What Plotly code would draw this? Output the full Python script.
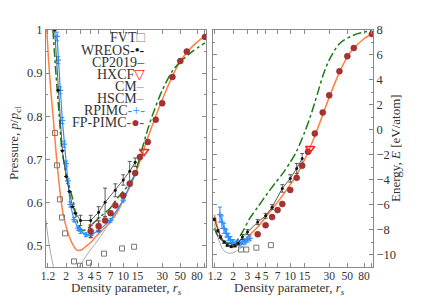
import plotly.graph_objects as go

# ---------------- data: pressure panel ----------------
fvt_rs_p = [1.46, 1.55, 1.68, 1.78, 1.94, 2.5, 2.96, 3.81, 5.82, 9.67, 13.6]
fvt_p = [0.761, 0.686, 0.607, 0.565, 0.528, 0.463, 0.453, 0.460, 0.481, 0.493, 0.497]

wreos_rs_p = [1.45, 1.6, 1.8, 2.0, 2.2, 2.4, 2.6, 3.0, 4.0, 5.0, 6.0, 8.0, 10.0, 12.0, 14.0]
wreos_p = [1.0, 0.86, 0.72, 0.66, 0.625, 0.59, 0.575, 0.558, 0.558, 0.577, 0.600, 0.628, 0.652, 0.672, 0.693]
wreos_p_err = [0, 0, 0, 0, 0, 0, 0, 0.012, 0.012, 0.013, 0.033, 0.015, 0.012, 0.023, 0.01]

cp_rs_p = [1.38, 1.5, 1.65, 1.78, 2.1, 2.43, 2.8, 3.2, 3.7, 4.5, 5.5, 6.9, 8.5, 10, 13.2, 16.5, 20, 24, 30, 40, 50, 70, 100]
cp_p = [1.0, 0.90, 0.80, 0.72, 0.65, 0.605, 0.55, 0.535, 0.54, 0.555, 0.57, 0.586, 0.61, 0.625, 0.656, 0.715, 0.77, 0.814, 0.86, 0.905, 0.926, 0.95, 0.97]

hxcf_rs_p = [18.0]
hxcf_p = [0.718]

cm_rs_p = [1.13, 1.2, 1.3, 1.4, 1.5, 2.5, 3.0, 3.5, 4.0, 5.0, 6.0, 8.0, 10.0]
cm_p = [0.56, 0.52, 0.48, 0.45, 0.42, 0.43, 0.455, 0.475, 0.49, 0.515, 0.537, 0.578, 0.605]

hscm_rs_p = [1.16, 1.22, 1.3, 1.4, 1.5, 1.65, 1.83, 2.1, 2.4, 2.72, 3.1, 3.45, 4.0, 4.6, 5.5, 6.9, 8.5, 10, 12, 14, 17, 20, 25, 30, 40, 50, 60, 80, 100]
hscm_p = [1.0, 0.93, 0.86, 0.79, 0.72, 0.64, 0.575, 0.53, 0.503, 0.489, 0.49, 0.497, 0.507, 0.52, 0.535, 0.553, 0.578, 0.605, 0.635, 0.665, 0.71, 0.75, 0.80, 0.838, 0.893, 0.928, 0.948, 0.972, 0.986]

rpimc_rs_p = [1.55, 1.6, 1.7, 1.8, 1.9, 2.0, 2.1, 2.25, 2.5, 2.8, 3.0, 3.5, 4.0, 5.0, 7.0, 10.0, 14.0]
rpimc_p = [0.985, 0.93, 0.86, 0.79, 0.735, 0.69, 0.65, 0.595, 0.56, 0.54, 0.533, 0.525, 0.523, 0.535, 0.558, 0.605, 0.667]
rpimc_p_err = [0.01, 0.008, 0.008, 0.007, 0.007, 0.006, 0.006, 0.006, 0.005, 0.005, 0.005, 0.004, 0.004, 0.004, 0.004, 0.004, 0.004]

fp_rs_p = [4, 5, 6, 7, 8, 10, 12, 14, 16, 20, 25, 30, 40, 50, 60, 100]
fp_p = [0.533, 0.545, 0.558, 0.575, 0.593, 0.616, 0.643, 0.668, 0.705, 0.740, 0.792, 0.830, 0.891, 0.928, 0.950, 0.984]
fp_p_err = [0.015, 0.012, 0.004, 0.004, 0.003, 0.003, 0.003, 0.003, 0.003, 0.003, 0.003, 0.003, 0.003, 0.003, 0.003, 0.003]

# ---------------- data: energy panel ----------------
fvt_rs_e = [2.5, 2.9, 3.85, 5.8]
fvt_e = [-9.6, -9.6, -9.45, -9.25]

wreos_rs_e = [1.18, 1.3, 1.4, 1.55, 1.7, 1.9, 2.1, 2.3, 2.6, 3.0, 4.0, 5.0, 6.0, 8.0, 10.0, 12.0, 14.0]
wreos_e = [-7.2, -8.1, -8.6, -9.0, -9.25, -9.35, -9.3, -9.1, -8.6, -8.2, -7.4, -6.9, -6.2, -4.7, -3.9, -3.1, -2.3]
wreos_e_err = [0.1, 0.1, 0.1, 0.1, 0.1, 0.1, 0.1, 0.1, 0.2, 0.2, 0.2, 0.2, 0.2, 0.3, 0.3, 0.4, 0.4]

cp_rs_e = [1.18, 1.3, 1.5, 1.8, 2.2, 2.6, 3.2, 4.0, 5.2, 6.5, 8.2, 10, 12, 15, 17.5, 20, 22.5, 25, 30, 40, 60, 100]
cp_e = [-7.9, -8.5, -8.9, -9.1, -8.9, -8.2, -7.1, -6.2, -5.15, -4.3, -3.45, -2.6, -1.7, -0.2, 1.0, 2.2, 3.3, 4.3, 5.6, 6.9, 7.6, 7.95]

hxcf_rs_e = [17.5]
hxcf_e = [-1.5]

cm_rs_e = [1.18, 1.3, 1.45, 1.55, 1.7, 1.85, 2.1, 2.4, 2.7, 3.0]
cm_e = [-7.5, -8.6, -9.4, -9.7, -9.85, -9.9, -9.8, -9.55, -9.3, -9.0]

hscm_rs_e = [1.18, 1.3, 1.45, 1.65, 1.9, 2.2, 2.6, 3.0, 4.0, 5.0, 6.0, 7.0, 8.0, 10, 12, 14, 16, 20, 25, 30, 40, 50, 60, 80, 100]
hscm_e = [-6.8, -7.9, -8.7, -9.15, -9.35, -9.3, -9.0, -8.6, -7.8, -7.0, -6.35, -5.8, -5.3, -4.4, -3.6, -2.8, -2.0, -0.5, 1.2, 2.6, 4.6, 5.85, 6.55, 7.3, 7.7]

rpimc_rs_e = [1.38, 1.46, 1.55, 1.65, 1.75, 1.86, 2.0, 2.2, 2.4, 2.6, 2.8, 3.0, 3.2]
rpimc_e = [-6.8, -7.4, -7.9, -8.3, -8.6, -8.8, -9.0, -9.1, -9.1, -9.0, -8.95, -8.8, -8.7]
rpimc_e_err = [0.6, 0.5, 0.4, 0.3, 0.3, 0.25, 0.2, 0.2, 0.2, 0.2, 0.2, 0.2, 0.2]

fp_rs_e = [4, 5, 6, 7, 8, 10, 12, 14, 16.5, 20, 25, 30, 40, 50, 60, 100]
fp_e = [-8.37, -7.65, -7.0, -6.44, -5.95, -4.82, -3.85, -2.89, -1.76, -0.3, 1.39, 2.76, 4.69, 5.9, 6.55, 7.68]

# ---------------- tick labels ----------------
x_tickvals = [1.2, 2, 3, 4, 5, 7, 10, 15, 30, 50, 80, 100]
x_ticktext = ["1.2", "2", "3", "4", "5", "7", "10", "15", "30", "50", "80", ""]

# ---------------- styles ----------------
FONT = "Liberation Serif"
C_FVT = "#777777"
C_WREOS = "#111111"
C_CP = "#1b7a1b"
C_HXCF = "#ff2020"
C_CM = "#aaaaaa"
C_HSCM = "#ff8040"
C_RPIMC = "#2a8fff"
C_FP = "#a83232"
AX = "#8a8a8a"
TXT = "#333333"

fig = go.Figure()


def add_panel(xa, ya, d):
    (fvt_x, fvt_y, wr_x, wr_y, wr_err, cp_x, cp_y, hx_x, hx_y, cm_x, cm_y,
     hs_x, hs_y, rp_x, rp_y, rp_err, fp_x, fp_y, fp_err) = d
    fig.add_trace(go.Scatter(x=cm_x, y=cm_y, mode="lines", line=dict(color=C_CM, width=1, shape="spline"),
                             xaxis=xa, yaxis=ya, showlegend=False))
    fig.add_trace(go.Scatter(x=hs_x, y=hs_y, mode="lines", line=dict(color=C_HSCM, width=1.5, shape="spline", smoothing=0.8),
                             xaxis=xa, yaxis=ya, showlegend=False))
    fig.add_trace(go.Scatter(x=cp_x, y=cp_y, mode="lines", line=dict(color=C_CP, width=1.5, dash="dashdot", shape="spline", smoothing=0.8),
                             xaxis=xa, yaxis=ya, showlegend=False))
    fig.add_trace(go.Scatter(x=rp_x, y=rp_y, mode="lines+markers", line=dict(color=C_RPIMC, width=1.2),
                             marker=dict(symbol="cross-thin", size=4, line=dict(color=C_RPIMC, width=1.2)),
                             error_y=dict(type="data", array=rp_err, color=C_RPIMC, thickness=1, width=2),
                             xaxis=xa, yaxis=ya, showlegend=False))
    fig.add_trace(go.Scatter(x=wr_x, y=wr_y, mode="lines+markers", line=dict(color="#333333", width=0.8),
                             marker=dict(symbol="circle", size=3, color=C_WREOS),
                             error_y=dict(type="data", array=wr_err, color="#333333", thickness=0.8, width=2),
                             xaxis=xa, yaxis=ya, showlegend=False))
    fig.add_trace(go.Scatter(x=fvt_x, y=fvt_y, mode="markers",
                             marker=dict(symbol="square-open", size=5, color=C_FVT, line=dict(width=1)),
                             xaxis=xa, yaxis=ya, showlegend=False))
    fig.add_trace(go.Scatter(x=fp_x, y=fp_y, mode="markers",
                             marker=dict(symbol="circle", size=6, color=C_FP, line=dict(color="#8a2020", width=0.5)),
                             error_y=dict(type="data", array=fp_err, color=C_FP, thickness=1.2, width=2),
                             xaxis=xa, yaxis=ya, showlegend=False))
    fig.add_trace(go.Scatter(x=hx_x, y=hx_y, mode="markers",
                             marker=dict(symbol="triangle-down-open", size=8, color=C_HXCF, line=dict(width=1.5)),
                             xaxis=xa, yaxis=ya, showlegend=False))


add_panel("x", "y", (fvt_rs_p, fvt_p, wreos_rs_p, wreos_p, wreos_p_err, cp_rs_p, cp_p, hxcf_rs_p, hxcf_p,
                     cm_rs_p, cm_p, hscm_rs_p, hscm_p, rpimc_rs_p, rpimc_p, rpimc_p_err,
                     fp_rs_p, fp_p, fp_p_err))
add_panel("x2", "y2", (fvt_rs_e, fvt_e, wreos_rs_e, wreos_e, wreos_e_err, cp_rs_e, cp_e, hxcf_rs_e, hxcf_e,
                       cm_rs_e, cm_e, hscm_rs_e, hscm_e, rpimc_rs_e, rpimc_e, rpimc_e_err,
                       fp_rs_e, fp_e, [0] * len(fp_e)))

W, H = 424, 297
common_x = dict(type="log", range=[0.055, 2.013], tickmode="array", tickvals=x_tickvals,
                ticktext=x_ticktext, tickangle=0, automargin=False, ticklabelstandoff=-2,
                ticks="inside", ticklen=4, tickcolor=AX, mirror="allticks", showline=True,
                linecolor=AX, linewidth=1, showgrid=False, zeroline=False,
                tickfont=dict(family=FONT, size=11.5, color=TXT))
common_y = dict(ticks="inside", ticklen=4, tickcolor=AX, mirror="allticks", showline=True,
                linecolor=AX, linewidth=1, showgrid=False, zeroline=False, automargin=False,
                tickfont=dict(family=FONT, size=12.5, color=TXT))

ydom = [1 - 267 / H, 1 - 30 / H]
fig.update_layout(
    width=W, height=H, margin=dict(l=0, r=0, t=0, b=0, pad=0, autoexpand=False),
    paper_bgcolor="white", plot_bgcolor="white", showlegend=False,
    font=dict(family=FONT, size=13, color=TXT),
    xaxis=dict(domain=[46 / W, 206 / W], anchor="y", **common_x),
    xaxis2=dict(domain=[213 / W, 373 / W], anchor="y2", **common_x),
    yaxis=dict(domain=ydom, anchor="x",
               range=[0.45, 1.0], dtick=0.1, tick0=0,
               minor=dict(dtick=0.05, ticks="inside", ticklen=2, tickcolor=AX),
               **common_y),
    yaxis2=dict(domain=ydom, anchor="x2", side="right",
                range=[-11, 8], dtick=2, tick0=0,
                minor=dict(dtick=1, ticks="inside", ticklen=2, tickcolor=AX),
                **common_y),
)

# axis titles
for xc in (126, 289):
    fig.add_annotation(x=xc / W, y=1 - 288 / H, xref="paper", yref="paper",
                       xanchor="center", yanchor="middle", showarrow=False,
                       text="Density parameter, <i>r<sub>s</sub></i>",
                       font=dict(family=FONT, size=13, color=TXT))
fig.add_annotation(x=15 / W, y=1 - 143 / H, xref="paper", yref="paper", textangle=-90,
                   xanchor="center", yanchor="middle", showarrow=False,
                   text="Pressure, <i>p</i>/<i>p</i><sub>cl</sub>",
                   font=dict(family=FONT, size=13, color=TXT))
fig.add_annotation(x=395 / W, y=1 - 148 / H, xref="paper", yref="paper", textangle=-90,
                   xanchor="center", yanchor="middle", showarrow=False,
                   text="Energy, <i>E</i> [eV/atom]",
                   font=dict(family=FONT, size=13, color=TXT))

# legend drawn as right-aligned text with coloured sample glyphs
legend_items = [
    ("FVT", "\u25a1", C_FVT, 37),
    ("WREOS", "-\u2022-", C_WREOS, 50),
    ("CP2019", "\u2013", C_CP, 62),
    ("HXCF", "\u25bd", C_HXCF, 74),
    ("CM", "\u2013", C_CM, 86),
    ("HSCM", "\u2013", C_HSCM, 98),
    ("RPIMC", "-+-", C_RPIMC, 110),
    ("FP-PIMC", "-\u25cf-", C_FP, 122),
]
for name, glyph, col, ypx in legend_items:
    fig.add_annotation(x=147 / W, y=1 - ypx / H, xref="paper", yref="paper",
                       xanchor="right", yanchor="middle", showarrow=False, height=12,
                       text=f"{name}<span style='color:{col}'>{glyph}</span>",
                       font=dict(family=FONT, size=14, color=TXT))

fig.write_html("out.html", config={"responsive": False, "displayModeBar": False},
               post_script="document.body.style.margin='0';document.body.style.overflow='hidden';")
